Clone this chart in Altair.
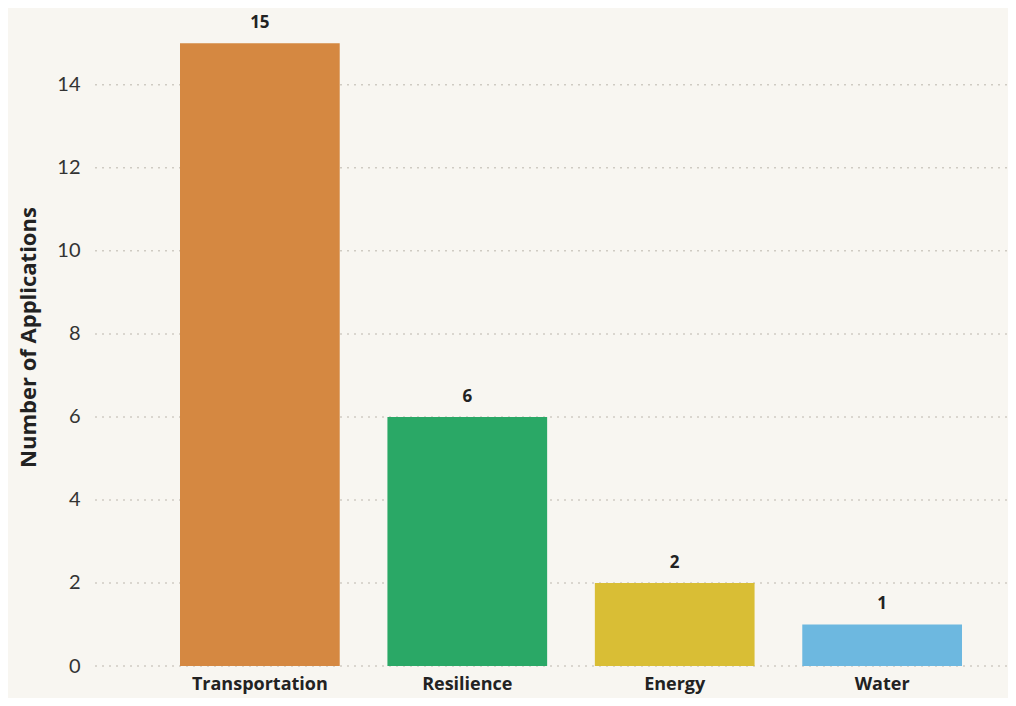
import altair as alt
import pandas as pd

categories = ["Transportation", "Resilience", "Energy", "Water"]
counts = [15, 6, 2, 1]
colors = ["#d58841", "#2aa866", "#d9be35", "#6db8e0"]
y_ticks = [0, 2, 4, 6, 8, 10, 12, 14]

df = pd.DataFrame({"Sector": categories, "Count": counts})
grid_df = pd.DataFrame({"tick": y_ticks})

FONT = "Lato"
BOLD_FONT = "Open Sans"
BG = "#f8f6f1"
W, H = 913, 658

y_scale = alt.Scale(domain=[0, 15.85], nice=False)

x_enc = alt.X(
    "Sector:N",
    sort=categories,
    title=None,
    scale=alt.Scale(range=[85, 867], paddingInner=0.23, paddingOuter=0),
    axis=alt.Axis(labelAngle=0, labelFont=BOLD_FONT, labelFontSize=18, labelFontWeight="bold",
                  labelColor="#222222", labelPadding=9, ticks=False, domain=False, grid=False),
)
y_enc = alt.Y(
    "Count:Q",
    title="Number of Applications",
    scale=y_scale,
    axis=alt.Axis(values=y_ticks, labelFont=FONT, labelFontSize=20, labelColor="#333333",
                  labelPadding=15, ticks=False, domain=False, grid=False,
                  titleFont=BOLD_FONT, titleFontSize=22, titleFontWeight="bold", titleColor="#222222",
                  titlePadding=16),
)

grid = alt.Chart(grid_df).mark_rule(
    color="#cfcbc3", strokeDash=[2, 5], strokeWidth=1.5
).encode(
    y=alt.Y("tick:Q", scale=y_scale),
    x=alt.value(0),
    x2=alt.value(W),
)

bars = alt.Chart(df).mark_bar().encode(
    x=x_enc,
    y=y_enc,
    color=alt.Color("Sector:N", scale=alt.Scale(domain=categories, range=colors), legend=None),
)

labels = alt.Chart(df).mark_text(
    font=BOLD_FONT, fontSize=17, fontWeight="bold", color="#222222", baseline="alphabetic", dy=-15
).encode(
    x=alt.X("Sector:N", sort=categories),
    y="Count:Q",
    text="Count:Q",
)

chart = (grid + bars + labels).properties(
    width=W,
    height=H,
    background=BG,
    padding={"left": 87, "top": 0, "right": 0, "bottom": 32},
    autosize=alt.AutoSizeParams(type="none"),
).configure_view(stroke=None)

chart.save("out.html", embed_options={"renderer": "svg", "actions": False})
